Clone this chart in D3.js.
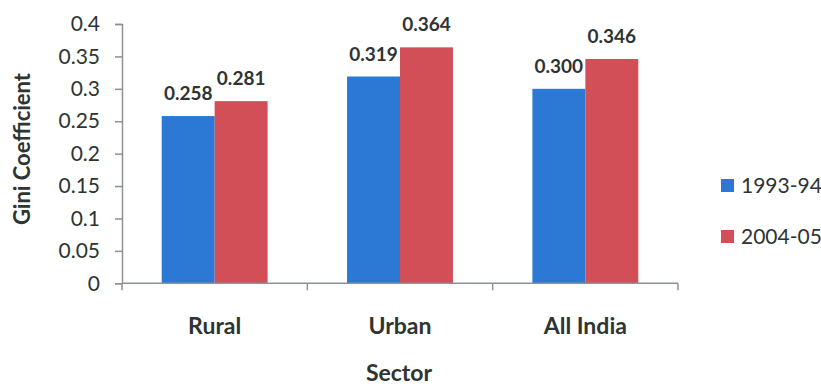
<!DOCTYPE html>
<html><head><meta charset="utf-8">
<script src="https://cdn.jsdelivr.net/npm/d3@7"></script>
<style>html,body{margin:0;padding:0;background:#fff;}svg{display:block;font-family:Lato,"Open Sans",sans-serif;}</style>
</head><body>
<svg id="chart" width="821" height="386"></svg>
<script>
const categories = ["Rural", "Urban", "All India"];
const seriesNames = ["1993-94", "2004-05"];
const values1993 = [0.258, 0.319, 0.300];
const values2004 = [0.281, 0.364, 0.346];
const labels1993 = ["0.258", "0.319", "0.300"];
const labels2004 = ["0.281", "0.364", "0.346"];
const yTicks = [0, 0.05, 0.1, 0.15, 0.2, 0.25, 0.3, 0.35, 0.4];
const yTickLabels = ["0", "0.05", "0.1", "0.15", "0.2", "0.25", "0.3", "0.35", "0.4"];
const colors = ["#2b79d5", "#d24f58"];

const svg = d3.select("#chart");
const textColor = "#2d3432";
const axisColor = "#8c9296";

const x0 = d3.scaleBand().domain(categories).range([122, 678]).padding(0);
const x1 = d3.scaleBand().domain(seriesNames).range([0, x0.bandwidth()]).paddingInner(0).paddingOuter(0.75);
const y = d3.scaleLinear().domain([0, 0.4]).range([283.3, 24]);

const seriesVals = [values1993, values2004];
const seriesLabels = [labels1993, labels2004];
const rows = [];
categories.forEach((c, i) => seriesNames.forEach((s, j) => rows.push({c, s, j, v: seriesVals[j][i], l: seriesLabels[j][i]})));

// bars
svg.append("g").selectAll("rect").data(rows).join("rect")
  .attr("x", d => x0(d.c) + x1(d.s))
  .attr("y", d => y(d.v))
  .attr("width", x1.bandwidth())
  .attr("height", d => y(0) - y(d.v))
  .attr("fill", d => colors[d.j]);

// value labels
svg.append("g").selectAll("text").data(rows).join("text")
  .attr("x", d => x0(d.c) + x1(d.s) + x1.bandwidth() / 2)
  .attr("y", d => y(d.v) - 16)
  .attr("text-anchor", "middle")
  .attr("font-weight", "bold")
  .attr("font-size", 19)
  .attr("fill", textColor)
  .text(d => d.l);

// y axis
const yAxis = d3.axisLeft(y).tickValues(yTicks).tickSize(7).tickPadding(15)
  .tickFormat((d, i) => yTickLabels[i]);
const gy = svg.append("g").attr("transform", "translate(122,0)").call(yAxis);
gy.select(".domain").attr("stroke", axisColor).attr("stroke-width", 1.5);
gy.selectAll(".tick line").attr("stroke", axisColor).attr("stroke-width", 1.5);
gy.selectAll(".tick text").attr("font-size", 21).attr("fill", textColor).attr("font-family", "Lato");

// x axis
const gx = svg.append("g");
gx.append("line").attr("x1", x0.range()[0]).attr("x2", x0.range()[1])
  .attr("y1", y(0)).attr("y2", y(0)).attr("stroke", axisColor).attr("stroke-width", 1.5);
const edges = categories.map(c => x0(c)).concat([x0.range()[1]]);
gx.selectAll("line.tk").data(edges).join("line").attr("class", "tk")
  .attr("x1", d => d).attr("x2", d => d).attr("y1", y(0)).attr("y2", y(0) + 7)
  .attr("stroke", axisColor).attr("stroke-width", 1.5);
gx.selectAll("text").data(categories).join("text")
  .attr("x", d => x0(d) + x0.bandwidth() / 2)
  .attr("y", 334)
  .attr("text-anchor", "middle")
  .attr("font-weight", "bold").attr("font-size", 23).attr("fill", textColor)
  .text(d => d);

// axis titles
svg.append("text").attr("x", 399).attr("y", 381).attr("text-anchor", "middle")
  .attr("font-weight", "bold").attr("font-size", 23).attr("fill", textColor).text("Sector");
svg.append("text").attr("transform", "translate(30,149) rotate(-90)").attr("text-anchor", "middle")
  .attr("font-weight", "bold").attr("font-size", 22).attr("fill", textColor).text("Gini Coefficient");

// legend
const lg = svg.append("g").selectAll("g").data(seriesNames).join("g")
  .attr("transform", (d, i) => `translate(721,${179 + i * 51})`);
lg.append("rect").attr("width", 13).attr("height", 13).attr("fill", (d, i) => colors[i]);
lg.append("text").attr("x", 20).attr("y", 14).attr("font-size", 21).attr("fill", textColor).text(d => d);
</script>
</body></html>
